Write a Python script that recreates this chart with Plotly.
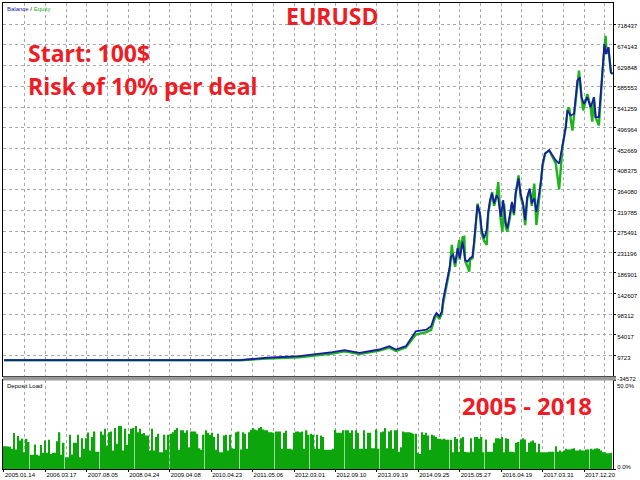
import plotly.graph_objects as go
import numpy as np

# balance curve (trade number -> deposit, $)
bal_trade = [0, 570, 634, 713, 793, 822, 858, 889, 906, 930, 946, 970, 994, 1020, 1031, 1039, 1044, 1051, 1057, 1060,
             1065, 1071, 1076, 1079, 1084, 1089, 1095, 1100, 1107, 1113, 1119, 1125, 1131, 1135, 1139, 1143, 1149,
             1153, 1159, 1165, 1169, 1173, 1178, 1183, 1189, 1193, 1199, 1205, 1211, 1215, 1221, 1226, 1231, 1235,
             1242, 1247, 1253, 1258, 1263, 1269, 1274, 1280, 1285, 1290, 1296, 1300, 1306, 1316, 1332, 1340, 1348,
             1356, 1360, 1368, 1376, 1384, 1390, 1394, 1400, 1408, 1416, 1424, 1428, 1436, 1443, 1449, 1453, 1459,
             1465, 1469]
bal_value = [100, 100, 5250, 8660, 17180, 21430, 15900, 20800, 22930, 29950, 22930, 29950, 61890, 65520, 72520, 93810,
             101050, 93810, 104450, 129360, 150650, 171940, 200260, 221550, 225170, 207500, 239430, 218140, 253480,
             214520, 210900, 218140, 221550, 257100, 289040, 331620, 313950, 278390, 260720, 278390, 317350, 342260,
             356530, 335240, 352910, 345880, 306710, 342260, 292660, 282010, 310330, 338640, 313950, 356530, 388460,
             356530, 335240, 299680, 349290, 367170, 335240, 345880, 317350, 342260, 381220, 420400, 441800, 448830,
             427000, 420500, 455860, 498450, 534010, 523360, 526980, 597890, 604920, 562330, 548270, 562330, 541030,
             562330, 519740, 519740, 597890, 676040, 654740, 668800, 615560, 612160]

# equity curve
eq_trade = [0, 570, 634, 713, 793, 822, 858, 889, 906, 930, 946, 970, 994, 1020, 1031, 1039, 1044, 1051, 1057, 1060,
            1065, 1071, 1076, 1081, 1084, 1089, 1095, 1099, 1100, 1107, 1111, 1113, 1119, 1123, 1125, 1131, 1135, 1139,
            1143, 1149, 1153, 1159, 1165, 1169, 1173, 1178, 1183, 1189, 1193, 1199, 1203, 1207, 1211, 1215, 1221, 1226,
            1231, 1235, 1242, 1247, 1253, 1258, 1263, 1269, 1274, 1280, 1285, 1290, 1296, 1300, 1306, 1316, 1332, 1340,
            1348, 1356, 1360, 1364, 1372, 1376, 1384, 1388, 1394, 1398, 1408, 1416, 1420, 1424, 1428, 1436, 1443, 1452,
            1455, 1459, 1462, 1465, 1469]
eq_value = [100, 100, 3500, 6500, 14500, 19000, 13500, 18500, 20500, 27000, 20000, 27000, 55000, 60000, 65000, 88000,
            98000, 88000, 100000, 122000, 145000, 165000, 195000, 246500, 222000, 200000, 240000, 257100, 215000,
            263000, 264000, 212000, 200000, 189600, 215000, 218000, 250000, 285000, 335000, 310000, 270000, 255000,
            246500, 315000, 340000, 360000, 330000, 350000, 381000, 300000, 275000, 335000, 285000, 275000, 305000,
            335000, 310000, 355000, 395000, 350000, 330000, 289000, 345000, 365000, 330000, 377800, 289000, 335000,
            375000, 415000, 441800, 448830, 420000, 365000, 455860, 498450, 534010, 540000, 491000, 526980, 597890,
            619000, 562330, 534000, 569000, 541030, 510000, 562330, 519740, 502000, 597890, 693700, 654740, 668800,
            640000, 615560, 612160]

# deposit load per deal, %
load_pct = [12.9, 12.9, 12.7, 12.5, 11.4, 20.3, 11.0, 18.6, 16.1, 17.0, 9.5, 17.0, 15.2, 8.0, 8.0, 13.8, 8.0, 7.6, 13.6,
            9.1, 16.1, 9.1, 16.5, 8.5, 9.1, 9.1, 15.7, 20.8, 8.0, 14.8, 6.6, 6.6, 19.3, 8.2, 14.8, 14.8, 19.3, 6.6, 17.4,
            11.4, 17.4, 20.6, 10.4, 18.0, 21.2, 9.8, 9.8, 21.2, 19.3, 22.7, 13.3, 20.8, 21.2, 10.4, 23.1, 14.2, 24.2,
            24.2, 10.4, 22.7, 13.6, 19.9, 22.7, 23.1, 24.2, 20.8, 22.7, 19.9, 20.3, 18.9, 18.9, 10.4, 22.7,
            10.4, 18.0, 19.9, 9.5, 9.5, 19.3, 10.8, 19.3, 19.9, 20.8, 22.2, 23.1, 10.8, 21.8, 21.8, 20.5, 21.8, 12.3,
            21.2, 21.2, 21.2, 19.9, 11.7, 10.8, 19.3, 21.8, 20.5, 19.3, 20.5, 18.0, 10.8, 19.9, 9.5, 9.5, 18.9, 19.3,
            10.4, 19.3, 11.7, 11.4, 20.8, 21.2, 11.0, 20.8, 19.9, 11.4, 20.8, 22.2, 23.1, 22.3, 21.8, 23.1, 23.7, 22.3,
            21.8, 21.8, 20.8, 20.8, 20.5, 21.2, 21.2, 21.2, 11.4, 20.5, 21.6, 11.4, 11.4, 11.0, 20.5, 21.2, 21.2, 20.8,
            21.2, 11.4, 21.8, 19.3, 19.9, 19.3, 11.4, 19.3,
            11.4, 18.9, 18.0, 10.8, 10.8, 10.8, 10.8, 11.4, 22.2, 20.5, 20.5, 20.5, 21.8, 21.8, 21.8, 20.5, 21.8, 11.4,
            21.8, 20.5, 11.4, 11.4, 21.8, 11.4, 20.5, 20.5, 11.7, 11.7, 22.3, 11.4, 20.8, 21.2, 23.1, 11.7, 21.2, 21.8,
            11.4, 21.8, 21.8, 9.8, 12.3, 21.2, 20.8, 20.8, 20.8, 20.5, 19.9, 19.9, 9.1, 8.5, 20.8, 19.3, 20.5, 18.9,
            10.8, 19.3, 18.9, 18.0, 17.0, 17.0, 16.7, 17.0, 16.5, 16.5, 16.5, 9.5, 18.0, 17.0, 9.8, 17.4, 18.0, 9.8,
            9.5, 9.5, 17.4, 9.8, 18.0, 18.0,
            17.0, 18.0, 9.5, 16.7, 9.8, 9.8, 9.8, 14.8, 17.4, 17.4, 17.0, 18.0, 9.5, 17.4, 17.0, 9.8, 9.8, 9.5, 14.8,
            15.2, 16.7, 17.4, 16.7, 9.8, 14.8, 15.5, 16.1, 14.8, 9.5, 14.2, 9.5, 9.5, 9.5, 9.5, 9.8, 9.8, 9.8, 12.9,
            9.8, 10.4, 9.8, 10.4, 11.4, 11.0, 11.0, 11.4, 11.7, 10.4, 10.4, 11.0, 10.4, 10.4, 11.0, 11.0, 11.4, 11.0,
            11.4, 11.7, 11.4, 10.4, 9.5, 9.5, 8.9, 8.9, 9.1]

# axis labels
date_labels = ["2005.01.14", "2006.03.17", "2007.08.05", "2008.04.24", "2009.04.08", "2010.04.23", "2011.05.06",
               "2012.03.01", "2012.09.10", "2013.09.19", "2014.09.25", "2015.05.27", "2016.04.19", "2017.03.31",
               "2017.12.20"]
date_trade = [0, 100, 200, 300, 400, 500, 600, 700, 800, 900, 1000, 1100, 1200, 1300, 1400]
y_labels = ["-34572", "9723", "54017", "98312", "142607", "186901", "231196", "275491", "319785", "364080",
            "408375", "452669", "496964", "541259", "585553", "629848", "674143", "718437"]
y_ticks = [float(s) for s in y_labels]

load_trade = np.linspace(0, bal_trade[-1] - 3, len(load_pct))

grid = "#a8a8a8"
dash = "3px,3px"
red = "#ee1c25"
small = dict(family="Liberation Sans", size=6, color="black")

fig = go.Figure()
fig.add_trace(go.Scatter(x=eq_trade, y=eq_value, mode="lines", line=dict(color="#1db31d", width=2.4),
                         xaxis="x", yaxis="y"))
fig.add_trace(go.Scatter(x=bal_trade, y=bal_value, mode="lines", line=dict(color="#1a1aa6", width=1.8),
                         xaxis="x", yaxis="y"))
fig.add_trace(go.Bar(x=load_trade, y=load_pct, marker_color="#0ca60c", marker_line_width=0,
                     xaxis="x2", yaxis="y2"))

main_bottom = (470 - 377) / 468
load_top = (470 - 381) / 468

fig.update_layout(
    width=640, height=480, showlegend=False, bargap=0.3,
    margin=dict(l=3, r=26, t=2, b=10),
    paper_bgcolor="white", plot_bgcolor="white",
    xaxis=dict(domain=[0, 1], anchor="y", range=[-2.4, 1470], tickvals=date_trade, showticklabels=False,
               showgrid=True, gridcolor=grid, griddash=dash, gridwidth=1, zeroline=False,
               minor=dict(dtick=50, tick0=0, showgrid=True, gridcolor=grid, griddash=dash),
               showline=True, linecolor="black", linewidth=1, mirror=True),
    yaxis=dict(domain=[main_bottom, 1], anchor="x", side="right", range=[-34572, 763785],
               tickvals=y_ticks, ticktext=y_labels, tickfont=small, ticks="outside", ticklen=2,
               tickcolor="black", ticklabelshift=2, showgrid=True, gridcolor=grid, griddash=dash,
               zeroline=False, showline=True, linecolor="black", linewidth=1, mirror=True),
    xaxis2=dict(domain=[0, 1], anchor="y2", matches="x", tickvals=date_trade, ticktext=date_labels,
                ticklabelposition="outside right", tickfont=small, ticks="outside", ticklen=2, tickcolor="black",
                showgrid=True, gridcolor=grid, griddash=dash, zeroline=False,
                minor=dict(dtick=50, tick0=0, showgrid=True, gridcolor=grid, griddash=dash),
                showline=True, linecolor="black", linewidth=1, mirror=True),
    yaxis2=dict(domain=[0, load_top], anchor="x2", side="right", range=[0, 50], tickvals=[0, 50],
                ticktext=["0.0%", ""], tickfont=small, ticks="outside", ticklen=2, tickcolor="black",
                ticklabelshift=-2, showgrid=False, zeroline=False, showline=True, linecolor="black",
                linewidth=1, mirror=True),
)

# grey separator between the two panels
fig.add_shape(type="rect", xref="paper", yref="paper", x0=0, x1=1.005, y0=load_top, y1=main_bottom,
              fillcolor="#9a9a9a", line_width=0)

# top label of the load scale sits just under the separator
fig.add_annotation(text="50.0%", xref="paper", yref="paper", x=1, y=load_top, xanchor="left", yanchor="top",
                   xshift=3, yshift=-2, showarrow=False, font=small, borderpad=0)

fig.add_annotation(text="<span style='color:#1a1aa6'>Balance</span> / <span style='color:#1db31d'>Equity</span>",
                   xref="paper", yref="paper", x=0.004, y=1, xanchor="left", yanchor="top", yshift=-1,
                   showarrow=False, font=small)
fig.add_annotation(text="Deposit Load", xref="paper", yref="paper", x=0.004, y=load_top, xanchor="left",
                   yanchor="top", yshift=-1, showarrow=False, font=small)

big = dict(family="Open Sans", size=23, color=red, weight="bold")
fig.add_annotation(text="EURUSD", xref="paper", yref="paper", x=(333 - 3) / 611, y=(470 - 15) / 468,
                   xanchor="center", yanchor="middle", showarrow=False, font=big)
fig.add_annotation(text="Start: 100$", xref="paper", yref="paper", x=(26 - 3) / 611, y=(470 - 52) / 468,
                   xanchor="left", yanchor="middle", showarrow=False, font=big)
fig.add_annotation(text="Risk of 10% per deal", xref="paper", yref="paper", x=(26 - 3) / 611, y=(470 - 85) / 468,
                   xanchor="left", yanchor="middle", showarrow=False, font=big)
fig.add_annotation(text="2005 - 2018", xref="paper", yref="paper", x=(528 - 3) / 611, y=(470 - 406) / 468,
                   xanchor="center", yanchor="middle", showarrow=False, font=dict(family="Open Sans", size=24,
                                                                                    color=red, weight="bold"))

# page has a default body margin; drop it so the figure sits at the window corner
fig.write_html("out.html", config={"displayModeBar": False},
               post_script="document.body.style.margin='0';")
